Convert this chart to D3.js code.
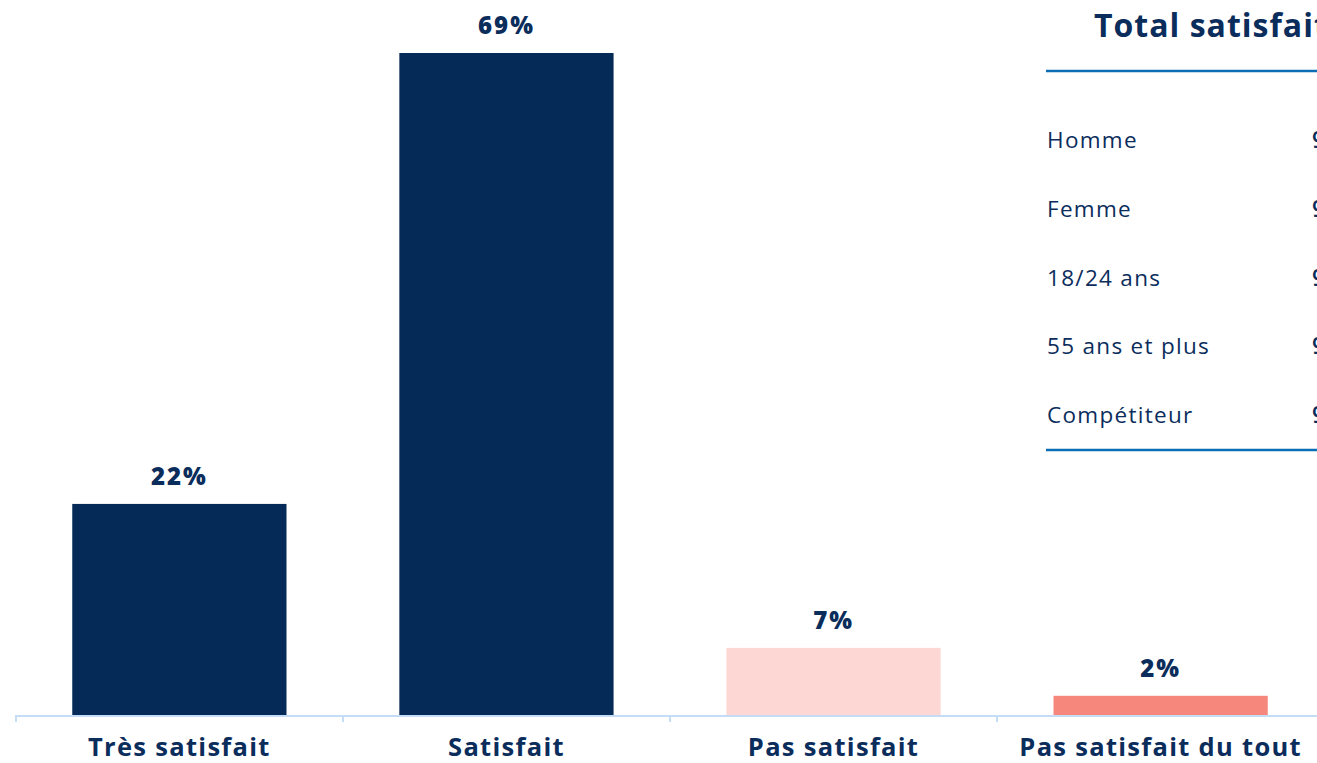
<!DOCTYPE html>
<html>
<head>
<meta charset="utf-8">
<script src="https://cdn.jsdelivr.net/npm/d3@7"></script>
<style>
  body { margin: 0; background: #fff; }
  svg { display: block; font-family: "Open Sans", sans-serif; }
</style>
</head>
<body>
<svg id="chart" width="1317" height="763"></svg>
<script>
// Bar data
const categories = ["Très satisfait", "Satisfait", "Pas satisfait", "Pas satisfait du tout"];
const values = [22, 69, 7, 2];
const barColors = ["#062a57", "#062a57", "#fdd7d4", "#f5877c"];

// Side table
const tableTitle = "Total satisfait";
const groups = ["Homme", "Femme", "18/24 ans", "55 ans et plus", "Compétiteur"];
const groupValues = [91, 92, 93, 91, 94];

const textColor = "#0b2d5c";

let svg = d3.select("#chart");

let x = d3.scaleBand()
    .domain(categories)
    .range([16, 1324])
    .paddingInner(0.345)
    .paddingOuter(0.172);

let y = d3.scaleLinear()
    .domain([0, 69])
    .range([715, 53]);

// Axis line + ticks at band edges
let axis = svg.append("g");
axis.append("line")
    .attr("x1", 15).attr("x2", 1317)
    .attr("y1", 716).attr("y2", 716)
    .attr("stroke", "#c5dcf7")
    .attr("stroke-width", 2);

axis.selectAll(".tick")
    .data(d3.range(categories.length + 1))
    .join("line")
        .attr("class", "tick")
        .attr("x1", i => 16 + i * (1324 - 16) / categories.length)
        .attr("x2", i => 16 + i * (1324 - 16) / categories.length)
        .attr("y1", 716).attr("y2", 722)
        .attr("stroke", "#c5dcf7")
        .attr("stroke-width", 2);

// Bars
svg.selectAll(".bar")
    .data(values)
    .join("rect")
        .attr("class", "bar")
        .attr("x", (d, i) => x(categories[i]))
        .attr("width", x.bandwidth())
        .attr("y", d => y(d))
        .attr("height", d => y(0) - y(d))
        .attr("fill", (d, i) => barColors[i]);

// Value labels
svg.selectAll(".val")
    .data(values)
    .join("text")
        .attr("class", "val")
        .attr("x", (d, i) => x(categories[i]) + x.bandwidth() / 2)
        .attr("y", d => y(d) - 19)
        .attr("text-anchor", "middle")
        .attr("font-size", 24)
        .attr("font-weight", 800)
        .attr("letter-spacing", 2)
        .attr("fill", textColor)
        .text(d => d + "%");

// Category labels
svg.selectAll(".cat")
    .data(categories)
    .join("text")
        .attr("class", "cat")
        .attr("x", d => x(d) + x.bandwidth() / 2)
        .attr("y", 756)
        .attr("text-anchor", "middle")
        .attr("font-size", 25.5)
        .attr("font-weight", 700)
        .attr("letter-spacing", 1.3)
        .attr("fill", textColor)
        .text(d => d);

// Side table
let table = svg.append("g");
table.append("text")
    .attr("x", 1094)
    .attr("y", 37)
    .attr("font-size", 32)
    .attr("font-weight", 700)
    .attr("letter-spacing", 1)
    .attr("fill", textColor)
    .text(tableTitle);

table.append("line")
    .attr("x1", 1046).attr("x2", 1317)
    .attr("y1", 71).attr("y2", 71)
    .attr("stroke", "#0a6db5")
    .attr("stroke-width", 2.5);

table.append("line")
    .attr("x1", 1046).attr("x2", 1317)
    .attr("y1", 450).attr("y2", 450)
    .attr("stroke", "#0a6db5")
    .attr("stroke-width", 2.5);

let rowY = d3.scalePoint()
    .domain(groups)
    .range([148, 423]);

table.selectAll(".grp")
    .data(groups)
    .join("text")
        .attr("class", "grp")
        .attr("x", 1047)
        .attr("y", d => rowY(d))
        .attr("font-size", 22.5)
        .attr("font-weight", 500)
        .attr("letter-spacing", 1.3)
        .attr("fill", textColor)
        .text(d => d);

table.selectAll(".gval")
    .data(groups)
    .join("text")
        .attr("class", "gval")
        .attr("x", 1312)
        .attr("y", d => rowY(d))
        .attr("font-size", 22.5)
        .attr("font-weight", 600)
        .attr("fill", textColor)
        .text((d, i) => groupValues[i] + "%");
</script>
</body>
</html>
